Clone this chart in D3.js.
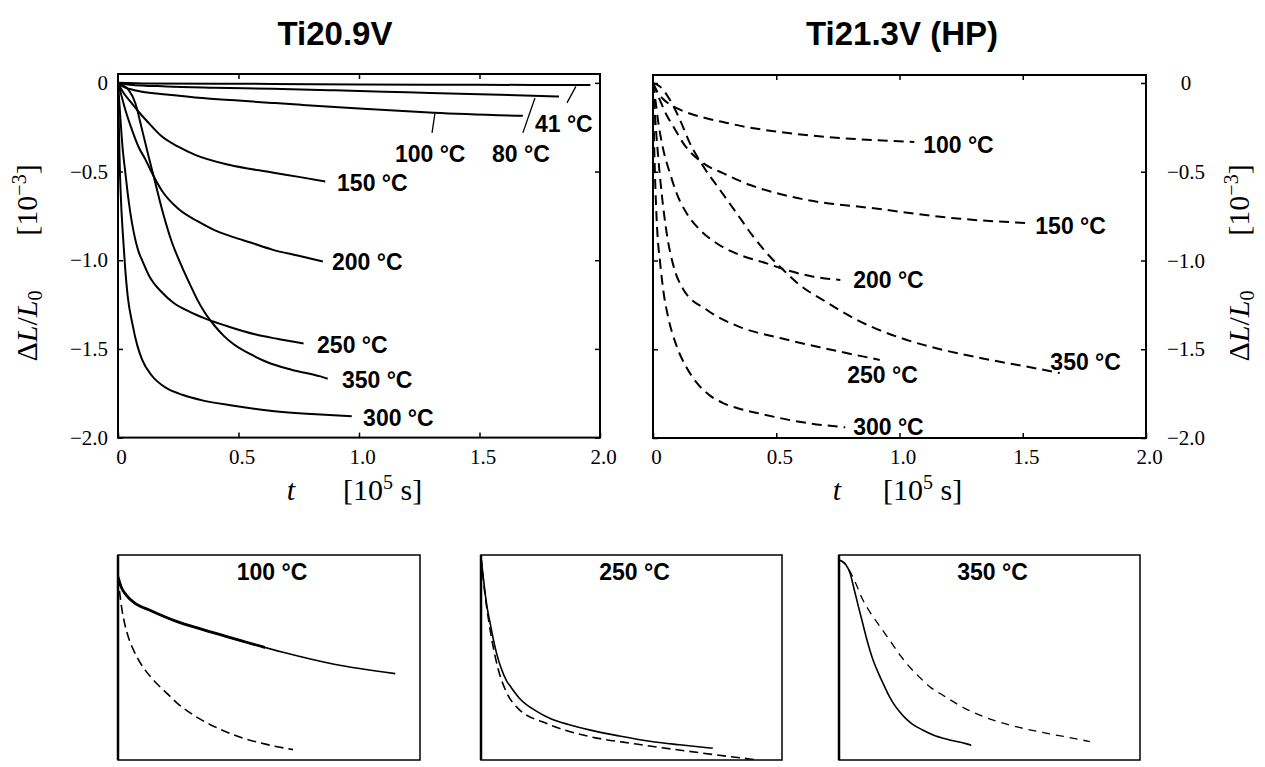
<!DOCTYPE html>
<html>
<head>
<meta charset="utf-8">
<script src="https://cdn.jsdelivr.net/npm/d3@7"></script>
<style>
  body { margin: 0; background: #fff; }
  svg { display: block; }
  .lbl { font-family: "Liberation Sans", Arial, sans-serif; font-weight: bold; font-size: 23px; fill: #000; }
  .ttl { font-family: "Liberation Sans", Arial, sans-serif; font-weight: bold; font-size: 33px; fill: #000; }
  .tick text { font-family: "Liberation Serif", "Times New Roman", serif; font-size: 21px; fill: #000; }
  .math { font-family: "Liberation Serif", "Times New Roman", serif; font-size: 30px; fill: #000; }
</style>
</head>
<body>
<svg id="chart" width="1265" height="767"></svg>
<script>
// Length change ΔL/L0 [10^-3] versus time t [10^5 s]

// Ti20.9V, measured curves (solid)
const solid41  = [[0,0],[0.1,-0.003],[0.64,-0.006],[1.0,-0.009],[1.5,-0.011],[1.96,-0.012]];
const solid80  = [[0,0],[0.05,-0.01],[0.2,-0.02],[0.4,-0.027],[0.64,-0.033],[0.9,-0.042],[1.2,-0.053],[1.5,-0.064],[1.83,-0.077]];
const solid100 = [[0,0],[0.02,-0.02],[0.05,-0.035],[0.1,-0.05],[0.2,-0.065],[0.35,-0.085],[0.5,-0.1],[0.64,-0.113],[0.76,-0.124],[1.0,-0.145],[1.31,-0.168],[1.68,-0.186]];
const solid150 = [[0,0],[0.02,-0.05],[0.06,-0.12],[0.09,-0.17],[0.13,-0.23],[0.18,-0.3],[0.25,-0.36],[0.32,-0.406],[0.46,-0.462],[0.64,-0.505],[0.75,-0.53],[0.86,-0.556]];
const solid200 = [[0,0],[0.01,-0.05],[0.03,-0.15],[0.058,-0.265],[0.085,-0.36],[0.113,-0.43],[0.148,-0.527],[0.183,-0.61],[0.25,-0.71],[0.33,-0.78],[0.4,-0.83],[0.48,-0.87],[0.55,-0.9],[0.64,-0.94],[0.75,-0.975],[0.85,-1.007]];
const solid250 = [[0,0],[0.005,-0.1],[0.013,-0.26],[0.02,-0.38],[0.03,-0.5],[0.04,-0.62],[0.052,-0.74],[0.065,-0.84],[0.085,-0.95],[0.1,-1.0],[0.13,-1.09],[0.185,-1.185],[0.23,-1.24],[0.296,-1.29],[0.36,-1.328],[0.46,-1.375],[0.572,-1.419],[0.66,-1.443],[0.77,-1.47]];
const solid300 = [[0,0],[0.003,-0.2],[0.007,-0.45],[0.012,-0.65],[0.02,-0.85],[0.03,-1.05],[0.04,-1.2],[0.06,-1.36],[0.08,-1.48],[0.1,-1.56],[0.14,-1.65],[0.2,-1.72],[0.27,-1.76],[0.35,-1.79],[0.48,-1.82],[0.64,-1.85],[0.84,-1.87],[0.97,-1.88]];
const solid350 = [[0,0],[0.02,-0.012],[0.044,-0.04],[0.072,-0.115],[0.1,-0.265],[0.127,-0.415],[0.148,-0.527],[0.183,-0.715],[0.224,-0.9],[0.26,-1.02],[0.3,-1.14],[0.33,-1.225],[0.36,-1.295],[0.4,-1.368],[0.44,-1.428],[0.48,-1.474],[0.55,-1.53],[0.62,-1.575],[0.72,-1.617],[0.84,-1.655],[0.87,-1.668]];

// Ti21.3V (HP), curves (dashed)
const dash100 = [[0,0],[0.01,-0.03],[0.025,-0.065],[0.042,-0.092],[0.065,-0.118],[0.09,-0.138],[0.12,-0.157],[0.155,-0.175],[0.22,-0.2],[0.3,-0.225],[0.36,-0.243],[0.49,-0.272],[0.62,-0.293],[0.76,-0.31],[0.9,-0.322],[1.06,-0.332]];
const dash150 = [[0,0],[0.028,-0.096],[0.055,-0.18],[0.083,-0.246],[0.123,-0.34],[0.205,-0.453],[0.286,-0.509],[0.394,-0.575],[0.5,-0.62],[0.624,-0.659],[0.895,-0.706],[1.247,-0.765],[1.53,-0.79]];
const dash200 = [[0,0],[0.01,-0.1],[0.022,-0.227],[0.042,-0.377],[0.069,-0.509],[0.096,-0.622],[0.137,-0.735],[0.191,-0.828],[0.258,-0.903],[0.353,-0.969],[0.461,-1.016],[0.542,-1.054],[0.651,-1.091],[0.76,-1.11]];
const dash250 = [[0,0],[0.005,-0.11],[0.012,-0.26],[0.02,-0.4],[0.035,-0.62],[0.056,-0.85],[0.083,-1.03],[0.122,-1.16],[0.219,-1.279],[0.353,-1.375],[0.516,-1.437],[0.69,-1.493],[0.92,-1.56]];
const dash300 = [[0,0],[0.004,-0.3],[0.01,-0.6],[0.018,-0.85],[0.028,-1.0],[0.045,-1.2],[0.06,-1.31],[0.097,-1.487],[0.135,-1.6],[0.178,-1.69],[0.23,-1.76],[0.284,-1.803],[0.35,-1.835],[0.422,-1.859],[0.6,-1.91],[0.78,-1.94]];
const dash350 = [[0,0],[0.028,-0.02],[0.069,-0.096],[0.11,-0.209],[0.15,-0.34],[0.205,-0.472],[0.272,-0.603],[0.34,-0.735],[0.407,-0.866],[0.475,-0.979],[0.529,-1.054],[0.597,-1.14],[0.69,-1.223],[0.828,-1.335],[1.03,-1.448],[1.165,-1.5],[1.368,-1.56],[1.57,-1.612],[1.65,-1.634]];

// Axis ticks
const xTicks = [0, 0.5, 1.0, 1.5, 2.0];
const xTickLabels = ["0", "0.5", "1.0", "1.5", "2.0"];
const yTicks = [0, -0.5, -1.0, -1.5, -2.0];
const yTickLabels = ["0", "\u22120.5", "\u22121.0", "\u22121.5", "\u22122.0"];

// Curve labels: text, anchor point [t, ΔL/L0] of the label's left edge
const labelsLeft = [
  ["41 °C", 1.73, -0.231], ["100 °C", 1.149, -0.397], ["80 °C", 1.552, -0.397],
  ["150 °C", 0.909, -0.564], ["200 °C", 0.888, -1.007], ["250 °C", 0.826, -1.477],
  ["350 °C", 0.929, -1.675], ["300 °C", 1.017, -1.889]
];
// Leader lines from a curve to its label: [t1, v1, t2, v2]
const leadersLeft = [
  [1.900, -0.020, 1.863, -0.113],
  [1.730, -0.085, 1.680, -0.282],
  [1.315, -0.172, 1.303, -0.282]
];
const labelsRight = [
  ["100 °C", 1.096, -0.349], ["150 °C", 1.551, -0.804], ["200 °C", 0.812, -1.11],
  ["250 °C", 0.788, -1.645], ["300 °C", 0.812, -1.938], ["350 °C", 1.612, -1.572]
];

const svg = d3.select("#chart");
const line = (x, y) => d3.line().x(d => x(d[0])).y(d => y(d[1])).curve(d3.curveMonotoneX);

// ---------- main panels ----------
function panel(opts) {
  const { x0, x1, y0, y1, yDom, id } = opts;
  const x = d3.scaleLinear([0, 2], [x0, x1]);
  const y = d3.scaleLinear(yDom, [y0, y1]);
  const g = svg.append("g");

  svg.append("clipPath").attr("id", id).append("rect")
    .attr("x", x0).attr("y", y0).attr("width", x1 - x0).attr("height", y1 - y0);

  // bottom axis with labels
  const ax = g.append("g").attr("transform", `translate(0,${y1})`)
    .call(d3.axisBottom(x).tickValues(xTicks).tickFormat((d, i) => xTickLabels[i]).tickSizeInner(-5).tickSizeOuter(0).tickPadding(11));
  ax.selectAll("text").attr("dx", 3);
  // top axis, ticks only
  g.append("g").attr("transform", `translate(0,${y0})`)
    .call(d3.axisTop(x).tickValues(xTicks.slice(1, 4)).tickFormat("").tickSizeInner(-5).tickSizeOuter(0));
  // left and right
  const left = d3.axisLeft(y).tickValues(yTicks).tickSizeInner(-5).tickSizeOuter(0).tickPadding(10);
  const right = d3.axisRight(y).tickValues(yTicks).tickSizeInner(-5).tickSizeOuter(0).tickPadding(40);
  if (opts.labelsOn === "left") {
    left.tickFormat((d, i) => yTickLabels[i]);
    right.tickFormat("");
  } else {
    left.tickFormat("");
    right.tickFormat((d, i) => yTickLabels[i]);
  }
  g.append("g").attr("transform", `translate(${x0},0)`).call(left);
  const ar = g.append("g").attr("transform", `translate(${x1},0)`).call(right);
  ar.selectAll("text").attr("text-anchor", "middle");

  g.selectAll(".domain").remove();
  g.selectAll(".tick line").attr("stroke", "#000").attr("stroke-width", 1.5);
  g.selectAll(".tick text").attr("font-family", null).attr("font-size", null);

  g.append("rect").attr("x", x0).attr("y", y0).attr("width", x1 - x0).attr("height", y1 - y0)
    .attr("fill", "none").attr("stroke", "#000").attr("stroke-width", 2);

  return { x, y, g, clip: `url(#${id})` };
}

const L = panel({ id: "clipL", x0: 118, x1: 600, y0: 74, y1: 437.6, yDom: [0.05, -2], labelsOn: "left" });
const R = panel({ id: "clipR", x0: 653, x1: 1146, y0: 75, y1: 438, yDom: [0.045, -2], labelsOn: "right" });

// Solid curves
const solidSeries = [solid41, solid80, solid100, solid150, solid200, solid250, solid300, solid350];
L.g.append("g").attr("clip-path", L.clip).selectAll("path").data(solidSeries).join("path")
  .attr("d", line(L.x, L.y)).attr("fill", "none").attr("stroke", "#000").attr("stroke-width", 2)
  .attr("stroke-linejoin", "round");

L.g.selectAll(".leader").data(leadersLeft).join("line").attr("class", "leader")
  .attr("x1", d => L.x(d[0])).attr("y1", d => L.y(d[1]))
  .attr("x2", d => L.x(d[2])).attr("y2", d => L.y(d[3]))
  .attr("stroke", "#000").attr("stroke-width", 1.3);

L.g.selectAll(".lbl").data(labelsLeft).join("text").attr("class", "lbl")
  .attr("x", d => L.x(d[1])).attr("y", d => L.y(d[2])).attr("dy", "0.36em").text(d => d[0]);

// Dashed curves
const dashSeries = [dash100, dash150, dash200, dash250, dash300, dash350];
R.g.append("g").attr("clip-path", R.clip).selectAll("path").data(dashSeries).join("path")
  .attr("d", line(R.x, R.y)).attr("fill", "none").attr("stroke", "#000").attr("stroke-width", 2)
  .attr("stroke-dasharray", "10,6");

R.g.selectAll(".lbl").data(labelsRight).join("text").attr("class", "lbl")
  .attr("x", d => R.x(d[1])).attr("y", d => R.y(d[2])).attr("dy", "0.36em").text(d => d[0]);

// Titles
svg.append("text").attr("class", "ttl").attr("x", 335).attr("y", 45).attr("text-anchor", "middle").text("Ti20.9V");
svg.append("text").attr("class", "ttl").attr("x", 902).attr("y", 45).attr("text-anchor", "middle").text("Ti21.3V (HP)");

// Axis titles
function yTitle(cx) {
  const g = svg.append("g").attr("transform", `translate(${cx},262) rotate(-90)`);
  const a = g.append("text").attr("class", "math").attr("x", -64).attr("dy", "0.3em").attr("text-anchor", "middle");
  a.append("tspan").text("\u0394");
  a.append("tspan").attr("font-style", "italic").text("L");
  a.append("tspan").text("/");
  a.append("tspan").attr("font-style", "italic").text("L");
  a.append("tspan").attr("font-size", "20px").attr("dy", "0.25em").text("0");
  const b = g.append("text").attr("class", "math").attr("x", 62).attr("dy", "0.3em").attr("text-anchor", "middle");
  b.append("tspan").text("[10");
  b.append("tspan").attr("font-size", "20px").attr("dy", "-0.55em").text("\u22123");
  b.append("tspan").attr("dy", "0.37em").text("]");
}
yTitle(28);
yTitle(1240);

function xTitle(tx, bx) {
  svg.append("text").attr("class", "math").attr("x", tx).attr("y", 500).attr("text-anchor", "middle")
    .attr("font-style", "italic").text("t");
  const b = svg.append("text").attr("class", "math").attr("x", bx).attr("y", 500);
  b.append("tspan").text("[10");
  b.append("tspan").attr("font-size", "20px").attr("dy", "-0.55em").text("5");
  b.append("tspan").attr("dy", "0.37em").text(" s]");
}
xTitle(291, 343);
xTitle(837, 883);

// ---------- comparison insets ----------
const insets = [
  { title: "100 °C", box: [118, 420, 555, 760], xDom: [0, 1.83], yDom: [0.042, -0.352], solid: solid100, dash: dash100, thickTo: 0.89, dashW: 1.6, dashArr: "9,5" },
  { title: "250 °C", box: [481, 782, 555, 760], xDom: [0, 1.0], yDom: [0.02, -1.56], solid: solid250, dash: dash250, thickTo: 0, dashW: 1.6, dashArr: "9,5" },
  { title: "350 °C", box: [839, 1140, 555, 760], xDom: [0, 1.98], yDom: [0.045, -1.8], solid: solid350, dash: dash350, thickTo: 0, dashW: 1.3, dashArr: "8,6" }
];

insets.forEach((p, i) => {
  const [bx0, bx1, by0, by1] = p.box;
  const x = d3.scaleLinear(p.xDom, [bx0, bx1]);
  const y = d3.scaleLinear(p.yDom, [by0, by1]);
  const id = `clipInset${i}`;
  svg.append("clipPath").attr("id", id).append("rect")
    .attr("x", bx0).attr("y", by0).attr("width", bx1 - bx0).attr("height", by1 - by0);
  const g = svg.append("g");
  const cg = g.append("g").attr("clip-path", `url(#${id})`);
  cg.append("path").datum(p.dash).attr("d", line(x, y)).attr("fill", "none")
    .attr("stroke", "#000").attr("stroke-width", p.dashW).attr("stroke-dasharray", p.dashArr);
  cg.append("path").datum(p.solid).attr("d", line(x, y)).attr("fill", "none")
    .attr("stroke", "#000").attr("stroke-width", 1.6);
  if (p.thickTo > 0) {
    // noisier early part of the measurement, drawn heavier
    const tid = `clipThick${i}`;
    svg.append("clipPath").attr("id", tid).append("rect")
      .attr("x", bx0).attr("y", by0).attr("width", x(p.thickTo) - bx0).attr("height", by1 - by0);
    g.append("g").attr("clip-path", `url(#${tid})`).append("path").datum(p.solid)
      .attr("d", line(x, y)).attr("fill", "none").attr("stroke", "#000").attr("stroke-width", 2.8);
  }
  g.append("rect").attr("x", bx0).attr("y", by0).attr("width", bx1 - bx0).attr("height", by1 - by0)
    .attr("fill", "none").attr("stroke", "#000").attr("stroke-width", 1.5);
  g.append("line").attr("x1", bx0).attr("x2", bx0).attr("y1", by0).attr("y2", by1)
    .attr("stroke", "#000").attr("stroke-width", 2.5);
  g.append("text").attr("class", "lbl").attr("x", (bx0 + bx1) / 2 + 3).attr("y", 572).attr("dy", "0.36em")
    .attr("text-anchor", "middle").text(p.title);
});
</script>
</body>
</html>
